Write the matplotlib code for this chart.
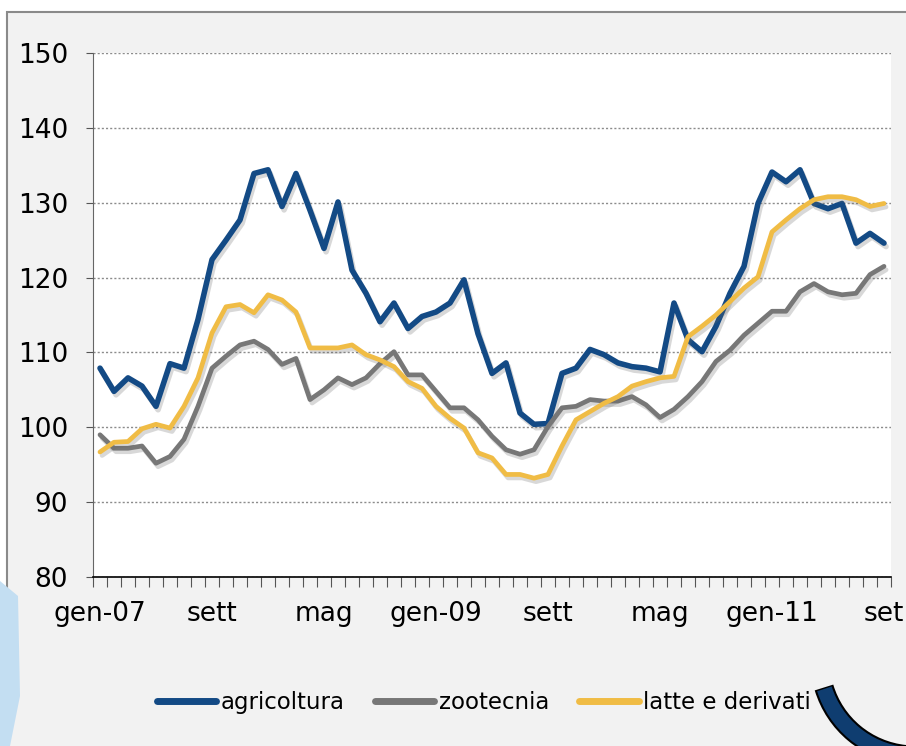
import numpy as np
import matplotlib
matplotlib.use('Agg')
import matplotlib.pyplot as plt
import matplotlib.patheffects as pe
from matplotlib import font_manager
from matplotlib.patches import Rectangle, Polygon, Arc

# narrow font if one is installed, otherwise plain DejaVu Sans
narrow = None
for fam in ['Liberation Sans Narrow', 'DejaVu Sans Condensed']:
    try:
        font_manager.findfont(font_manager.FontProperties(family=fam), fallback_to_default=False)
        narrow = fam
        break
    except ValueError:
        pass
if narrow:
    plt.rcParams['font.family'] = [narrow, 'DejaVu Sans']
    tick_size, leg_size = 20.5, 18.5
else:
    plt.rcParams['font.family'] = ['DejaVu Sans']
    tick_size, leg_size = 19, 16.5

# monthly indices, gen-07 .. set-11
agricoltura = [107.9, 104.8, 106.6, 105.5, 102.8, 108.5, 107.9, 114.4, 122.4, 125.0,
               127.7, 133.9, 134.4, 129.5, 133.9, 129.0, 123.9, 130.1, 121.0, 117.9,
               114.1, 116.6, 113.2, 114.8, 115.4, 116.6, 119.7, 112.5, 107.2, 108.6,
               101.9, 100.4, 100.5, 107.2, 107.9, 110.4, 109.7, 108.6, 108.1, 107.9,
               107.4, 116.6, 111.7, 110.1, 113.5, 117.9, 121.5, 129.9, 134.1, 132.8,
               134.4, 129.9, 129.2, 129.9, 124.6, 125.9, 124.6]
zootecnia = [99.0, 97.2, 97.2, 97.5, 95.2, 96.1, 98.4, 102.8, 107.9, 109.5,
             111.0, 111.5, 110.4, 108.4, 109.2, 103.7, 105.0, 106.6, 105.7, 106.6,
             108.5, 110.1, 107.0, 107.0, 104.8, 102.6, 102.6, 101.0, 98.8, 97.0,
             96.4, 97.0, 100.1, 102.6, 102.8, 103.7, 103.5, 103.5, 104.1, 103.0,
             101.3, 102.4, 104.1, 106.1, 108.8, 110.3, 112.3, 113.9, 115.5, 115.5,
             118.1, 119.2, 118.1, 117.7, 117.9, 120.4, 121.5]
latte = [96.7, 98.0, 98.1, 99.8, 100.4, 99.9, 102.8, 106.6, 112.6, 116.1,
         116.4, 115.3, 117.7, 117.0, 115.4, 110.6, 110.6, 110.6, 111.0, 109.7,
         109.0, 108.1, 106.1, 105.2, 102.8, 101.2, 99.9, 96.6, 95.9, 93.7,
         93.7, 93.2, 93.7, 97.5, 101.0, 102.1, 103.2, 104.1, 105.5, 106.1,
         106.6, 106.8, 112.1, 113.5, 115.0, 116.8, 118.6, 120.1, 126.1, 127.7,
         129.2, 130.4, 130.8, 130.8, 130.4, 129.5, 129.9]
tick_labels = ['gen-07', 'sett', 'mag', 'gen-09', 'sett', 'mag', 'gen-11', 'set']
names = ['agricoltura', 'zootecnia', 'latte e derivati']
colors = ['#134a85', '#777777', '#f0bc45']

W, H = 906, 746
fig = plt.figure(figsize=(W / 100, H / 100), dpi=100)
fig.patch.set_facecolor('white')

# slide frame and decorations
fig.patches.append(Rectangle((7 / W, -0.02), 1.0, 1 - 12 / H + 0.02, transform=fig.transFigure,
                             facecolor='#f2f2f2', edgecolor='#8a8a8a', lw=1.5, zorder=1))
fig.patches.append(Polygon([(0, 0), (0, 165 / H), (18 / W, 150 / H), (20 / W, 50 / H), (10 / W, 0)],
                           closed=True, transform=fig.transFigure, facecolor='#c3def2',
                           edgecolor='none', zorder=2))

x = np.arange(len(agricoltura))
ax = fig.add_axes([93 / W, 1 - 577 / H, 798 / W, (577 - 53) / H])
ax.set_facecolor('white')
ax.set_zorder(3)

shadow = [pe.SimpleLineShadow(offset=(1.5, -2.5), shadow_color='#666666', alpha=0.25), pe.Normal()]
for vals, name, c, lw in zip([agricoltura, zootecnia, latte], names, colors, [4.0, 3.4, 3.4]):
    ax.plot(x, vals, color=c, lw=lw, label=name, solid_joinstyle='round',
            solid_capstyle='round', path_effects=shadow, zorder=3)

ax.set_xlim(-0.5, len(x) - 0.5)
ax.set_ylim(80, 150)
ax.set_yticks(np.arange(80, 151, 10))
ax.yaxis.grid(True, linestyle=(0, (1.5, 1.5)), color='#8c8c8c', lw=1.0)
ax.set_axisbelow(True)

ax.set_xticks(x[::8])
ax.set_xticklabels(tick_labels)
ax.set_xticks(np.arange(-0.5, len(x), 1.0), minor=True)
ax.tick_params(axis='x', which='major', length=0, pad=17, labelsize=tick_size)
ax.tick_params(axis='x', which='minor', length=7, width=0.8, color='#555555', direction='out')
ax.tick_params(axis='y', length=5, width=0.8, color='#555555', pad=13, labelsize=tick_size)

for side in ['top', 'right']:
    ax.spines[side].set_visible(False)
ax.spines['left'].set_color('#666666')
ax.spines['bottom'].set_color('black')
ax.spines['bottom'].set_linewidth(1.2)

leg = fig.legend(loc='center', bbox_to_anchor=(0.534, 0.058), ncol=3, frameon=False,
                 fontsize=leg_size, handlelength=2.6, handletextpad=0.2, columnspacing=1.3)
for h in leg.get_lines():
    h.set_linewidth(5)
    h.set_path_effects([])
leg.set_zorder(4)

# dark arc at bottom right
fig.patches.append(Arc((915 / W, 0.115), 190 / W, 190 / H, theta1=200, theta2=265,
                       transform=fig.transFigure, color='black', lw=14, zorder=5))
fig.patches.append(Arc((915 / W, 0.115), 190 / W, 190 / H, theta1=201, theta2=264,
                       transform=fig.transFigure, color='#0f3d70', lw=11, zorder=6))

fig.savefig('out.png', dpi=100)
